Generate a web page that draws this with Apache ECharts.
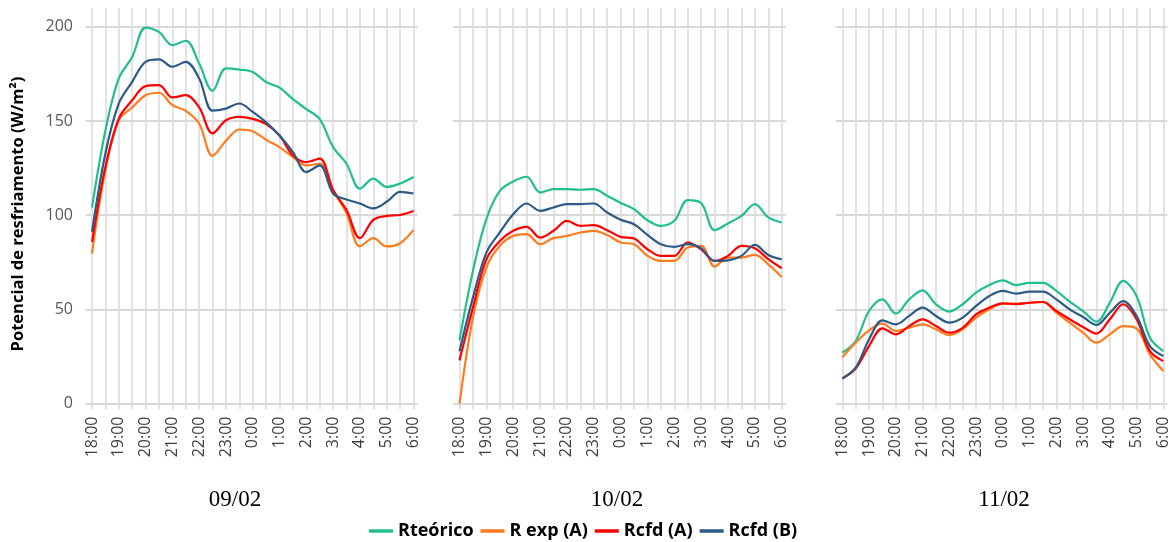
<!DOCTYPE html>
<html>
<head>
<meta charset="utf-8">
<script src="https://cdn.jsdelivr.net/npm/echarts@6/dist/echarts.min.js"></script>
<style>html,body{margin:0;padding:0;background:#fff;}#c{width:1176px;height:542px;}</style>
</head>
<body>
<div id="c"></div>
<script>
const categories = ['18:00','18:30','19:00','19:30','20:00','20:30','21:00','21:30','22:00','22:30','23:00','23:30','0:00','0:30','1:00','1:30','2:00','2:30','3:00','3:30','4:00','4:30','5:00','5:30','6:00'];
const days = ['09/02','10/02','11/02'];
const seriesNames = ['Rteórico','R exp (A)','Rcfd (A)','Rcfd (B)'];
const yTicks = [0, 50, 100, 150, 200];

// 09/02
const rteo1 = [104, 145, 172.6, 184, 199.6, 197.3, 190.3, 192.6, 180.5, 166, 177.9, 177.3, 176, 170.7, 167.7, 161.6, 156.3, 151, 136.1, 127.3, 114.1, 119.4, 115, 116.8, 120.3];
const exp1  = [79.6, 123.9, 150.4, 157.2, 163.7, 165, 158.4, 155.4, 148.7, 131.5, 139.5, 145.5, 144.6, 140, 136.1, 130.8, 126.4, 127.3, 113.3, 101, 83.4, 87.8, 83.4, 85.1, 92.2];
const cfdA1 = [85.8, 125.7, 151.3, 161, 168.5, 169, 162.5, 163.7, 157.2, 143.4, 150.4, 152.2, 151.1, 148.4, 142.3, 131.7, 128.2, 130, 113.3, 102.7, 87.8, 97.5, 99.6, 100.1, 102.2];
const cfdB1 = [91.2, 132.7, 159.3, 170.8, 181.4, 182.7, 178.8, 181.4, 172.6, 155.5, 156.6, 159.3, 154.8, 149.3, 142.3, 133.5, 122.9, 126.4, 111.5, 108.3, 106.2, 103.6, 107.1, 112.4, 111.5];
// 10/02
const rteo2 = [33.5, 70.4, 97.9, 112.9, 117.9, 120.4, 112.1, 113.8, 113.8, 113.5, 113.8, 110.3, 106.5, 103.2, 97.3, 94.3, 97, 108, 106.5, 92, 95.6, 99.6, 105.9, 98.8, 96.1];
const exp2  = [0, 45.6, 72.2, 83.7, 89, 89.9, 84.6, 87.8, 89, 90.8, 91.7, 89.5, 85.5, 84.6, 78.4, 75.7, 75.7, 82.8, 83.7, 72.7, 77.5, 77.5, 78.9, 73.9, 67.2];
const cfdA2 = [22.9, 50.9, 76.6, 86.3, 91.7, 93.8, 88.1, 91.7, 97, 94.3, 94.7, 92, 88.5, 87.6, 81.9, 78.4, 78.4, 85.5, 81.9, 75.7, 78.4, 83.7, 82.4, 76.6, 71.8];
const cfdB2 = [27.8, 56.2, 80.1, 90.8, 100.5, 106.2, 102.3, 104.1, 105.9, 105.9, 106.2, 101.4, 97.6, 95.2, 89.5, 84.6, 83.2, 84.6, 82.4, 75.7, 76, 78.4, 84.2, 78.9, 76.6];
// 11/02
const rteo3 = [27, 33.2, 49.1, 55.3, 47.7, 55.3, 60.1, 52.7, 48.8, 52.7, 58.9, 62.9, 65.4, 62.9, 64.1, 64.1, 59.8, 54.1, 49.1, 43.4, 53.5, 65.1, 57.1, 34.9, 27.8];
const exp3  = [24.6, 32.3, 38.8, 42.4, 38.5, 40.2, 42, 39.4, 36.3, 39.4, 45.6, 50, 53, 53, 53.5, 53.9, 48.2, 42.9, 37.6, 32.3, 36.7, 41.1, 39.9, 26.1, 17.2];
const cfdA3 = [13.3, 18.6, 30.5, 39.9, 36.7, 41.1, 44.7, 41.1, 37.6, 40.2, 47.3, 50.9, 53.2, 52.7, 53.5, 53.9, 49.1, 44.7, 40.6, 37.1, 44.7, 52.7, 44.7, 27.8, 22.5];
const cfdB3 = [13.3, 19, 34, 44.1, 42, 46.5, 50.9, 46.5, 42.9, 45.6, 51.8, 57.1, 59.8, 58.3, 59.4, 59.4, 55.3, 50, 45.9, 41.7, 48.2, 54.4, 46.5, 30.5, 25.2];

const panels = [[rteo1, exp1, cfdA1, cfdB1], [rteo2, exp2, cfdA2, cfdB2], [rteo3, exp3, cfdA3, cfdB3]];
const colors = ['#22bf8e', '#ff7b1c', '#ff0000', '#2c5b88'];

const TOP = 8, H = 395.5, YMAX = 210;
const plotBoxes = [{left: 92, width: 321.5}, {left: 459.5, width: 322.2}, {left: 842.3, width: 321}];
const titleX = [230, 612, 999];

const grid = [], xAxis = [], yAxis = [], series = [], title = [];
plotBoxes.forEach((b, p) => {
  grid.push({left: b.left - 6.5, width: b.width + 10.5, top: TOP, height: H});
  xAxis.push({gridIndex: 2*p, type: 'value', min: 0, max: 1, show: false});
  yAxis.push({gridIndex: 2*p, type: 'value', min: 0, max: YMAX, interval: 50,
    axisLine: {show: false}, axisTick: {show: false}, axisLabel: {show: false},
    splitLine: {show: true, showMaxLine: false, showMinLine: true, lineStyle: {color: '#cccccc', width: 1.6}}});
  grid.push({left: b.left, width: b.width, top: TOP, height: H});
  xAxis.push({gridIndex: 2*p+1, type: 'category', data: categories, boundaryGap: false,
    axisLine: {show: false},
    axisTick: {show: true, interval: 0, length: 6, lineStyle: {color: '#d9d9d9', width: 1.5}},
    splitLine: {show: true, interval: 0, lineStyle: {color: '#d9d9d9', width: 1.5}},
    axisLabel: {interval: 1, rotate: 90, margin: 13, fontSize: 16, color: '#404040', fontFamily: 'Open Sans'}});
  yAxis.push({gridIndex: 2*p+1, type: 'value', min: 0, max: YMAX, interval: 50,
    axisLine: {show: false}, axisTick: {show: false}, splitLine: {show: false},
    axisLabel: {show: p === 0, showMaxLabel: false, margin: 19, fontSize: 16, color: '#595959', fontFamily: 'Open Sans'}});
  panels[p].forEach((d, s) => {
    series.push({type: 'line', name: seriesNames[s], xAxisIndex: 2*p+1, yAxisIndex: 2*p+1,
      data: d, smooth: 0.35, showSymbol: false, symbol: 'none',
      lineStyle: {color: colors[s], width: 2.2}, itemStyle: {color: colors[s]}, z: 3 + s});
  });
  title.push({text: days[p], left: titleX[p], top: 483, textAlign: 'center',
    textStyle: {fontFamily: 'Liberation Serif', fontSize: 23, fontWeight: 'normal', color: '#000'}});
});

const chart = echarts.init(document.getElementById('c'), null, {renderer: 'canvas'});
chart.setOption({
  animation: false,
  backgroundColor: '#fff',
  title: title,
  grid: grid, xAxis: xAxis, yAxis: yAxis, series: series,
  legend: {data: seriesNames, left: 364, top: 517, icon: 'rect', itemWidth: 24, itemHeight: 3.5, itemGap: 7,
    textStyle: {fontFamily: 'Open Sans', fontWeight: 'bold', fontSize: 18, color: '#000'}},
  graphic: [{type: 'text', x: 18, y: 214, rotation: Math.PI / 2,
    style: {text: 'Potencial de resfriamento (W/m²)', fill: '#000', font: 'bold 16.5px "Open Sans"', textAlign: 'center', textVerticalAlign: 'middle'}}]
});
</script>
</body>
</html>
